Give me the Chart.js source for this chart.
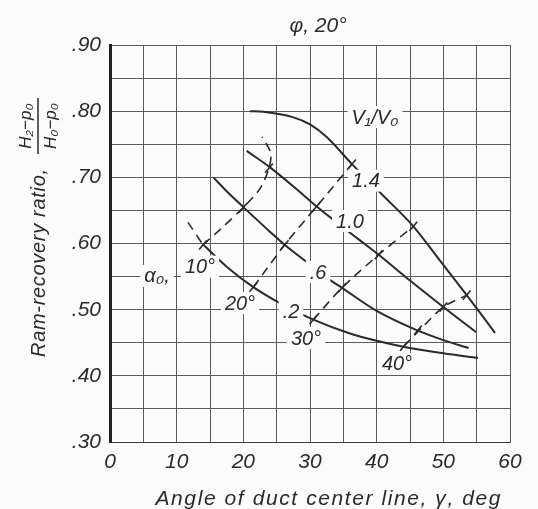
<!DOCTYPE html>
<html>
<head>
<meta charset="utf-8">
<script src="https://cdn.jsdelivr.net/npm/chart.js@4.4.1/dist/chart.umd.min.js"></script>
<style>
  html, body { margin: 0; background: #fbfbfb; }
  #wrap { width: 538px; height: 509px; position: relative; }
</style>
</head>
<body>
<div id="wrap"><canvas id="chart"></canvas></div>
<script>
// axis ranges
const xMin = 0, xMax = 60, xStep = 5;
const yMin = 0.30, yMax = 0.90, yStep = 0.05;

// solid curves, V1/V0 = const  [angle, ratio]
const curve02 = [[14.0, .598], [17.5, .565], [21.5, .534], [26, .507], [30.5, .485], [36, .464], [40, .453], [44, .444], [50, .434], [55.2, .427]];
const curve06 = [[15.5, .700], [17.5, .679], [20, .655], [23, .627], [26.2, .598], [29.5, .572], [32.7, .547], [34.8, .533], [40, .498], [46, .469], [50, .454], [53.8, .442]];
const curve10 = [[20.5, .740], [24, .715], [28, .682], [31, .656], [34, .632], [37.2, .607], [40.3, .583], [45, .544], [50, .504], [54.9, .466]];
const curve14 = [[21, .800], [23, .799], [27.4, .791], [30, .780], [32.5, .761], [36.3, .720], [40.5, .677], [45.5, .626], [49.5, .574], [53.5, .522], [57.75, .465]];

// dashed curves, alpha0 = const
const alpha10 = [[13.95, .598], [16.5, .621], [19.95, .654], [22.5, .683], [23.85, .714], [24.1, .737], [22.8, .761]];
const alpha10Ext = [[11.7, .632], [13.95, .598]];
const alpha20 = [[21.5, .534], [26.2, .598], [31, .656], [36.3, .720]];
const alpha30 = [[30.5, .485], [34.8, .533], [40.3, .583], [45.5, .626]];
const alpha40 = [[44.1, .445], [47, .475], [50, .504], [53.5, .522]];

// crossing marks
const crossings = [
  [13.95, .598], [21.5, .534], [30.5, .485], [44.1, .445],
  [19.95, .654], [26.2, .598], [34.8, .533], [46.2, .469],
  [23.85, .714], [31, .656], [40.3, .583], [50, .504],
  [36.3, .720], [45.5, .626], [53.5, .522]
];

// in-plot labels [text, angle, ratio]
const curveLabels = [
  ['V\u2081/V\u2080', 39.75, .791],
  ['1.4', 38.4, .695],
  ['1.0', 36, .634],
  ['.6', 31.2, .557],
  ['.2', 27.15, .497],
  ['30\u00b0', 29.4, .457],
  ['40\u00b0', 43.05, .418],
  ['20\u00b0', 19.5, .510],
  ['10\u00b0', 13.5, .565],
  ['\u03b1\u2080,', 7.05, .551]
];

const chartTitle = '\u03c6, 20\u00b0';
const xTitle = 'Angle of duct center line, \u03b3, deg';
const yTitle = 'Ram-recovery ratio,';
const yFracTop = 'H\u2082\u2212p\u2080';
const yFracBottom = 'H\u2080\u2212p\u2080';

const ink = '#2a2a2a';
const paper = '#fbfbfb';
const fontFamily = '"Liberation Sans", Arial, sans-serif';

const toPts = arr => arr.map(([x, y]) => ({ x, y }));

const solid = (data) => ({
  data: toPts(data), showLine: true, borderColor: ink, borderWidth: 2,
  pointRadius: 0, cubicInterpolationMode: 'monotone', fill: false
});
const dashed = (data) => ({
  data: toPts(data), showLine: true, borderColor: ink, borderWidth: 1.6,
  borderDash: [9, 6], pointRadius: 0, tension: 0.3, fill: false
});

// fit text into a given width with letter spacing
function drawFitted(ctx, text, x, y, width) {
  ctx.letterSpacing = '0px';
  const w = ctx.measureText(text).width;
  const extra = (width - w) / Math.max(1, text.length - 1);
  ctx.letterSpacing = extra + 'px';
  ctx.textAlign = 'left';
  ctx.fillText(text, x - width / 2, y);
  ctx.letterSpacing = '0px';
}

const decorations = {
  id: 'decorations',
  afterDatasetsDraw(chart) {
    const { ctx, scales: { x, y } } = chart;
    ctx.save();
    ctx.fillStyle = ink;
    ctx.textBaseline = 'middle';
    ctx.font = 'italic 20px ' + fontFamily;
    curveLabels.forEach(([text, vx, vy]) => {
      const px = x.getPixelForValue(vx);
      const py = y.getPixelForValue(vy);
      const w = ctx.measureText(text).width;
      ctx.fillStyle = paper;
      ctx.fillRect(px - w / 2 - 4, py - 11, w + 8, 22);
      ctx.fillStyle = ink;
      ctx.textAlign = 'center';
      ctx.fillText(text, px, py + 1);
    });
    ctx.restore();
  },
  afterDraw(chart) {
    const { ctx } = chart;
    ctx.save();
    ctx.fillStyle = ink;
    ctx.strokeStyle = ink;

    // title
    ctx.font = 'italic 21px ' + fontFamily;
    ctx.textAlign = 'center';
    ctx.textBaseline = 'middle';
    ctx.fillText(chartTitle, 318, 26);

    // x title
    ctx.font = 'italic 21px ' + fontFamily;
    ctx.textBaseline = 'alphabetic';
    drawFitted(ctx, xTitle, 328, 505, 345);

    // y title (rotated)
    ctx.translate(38, 263);
    ctx.rotate(-Math.PI / 2);
    ctx.textBaseline = 'middle';
    ctx.font = 'italic 20px ' + fontFamily;
    drawFitted(ctx, yTitle, 0, 1, 188);

    ctx.font = 'italic 17px ' + fontFamily;
    ctx.textAlign = 'center';
    ctx.fillText(yFracTop, 137, -12);
    ctx.fillText(yFracBottom, 137, 13);
    ctx.lineWidth = 1.5;
    ctx.beginPath();
    ctx.moveTo(109, 0);
    ctx.lineTo(165, 0);
    ctx.stroke();
    ctx.restore();
  }
};

const tickFont = { family: fontFamily, size: 21, style: 'italic' };

new Chart(document.getElementById('chart'), {
  type: 'scatter',
  data: {
    datasets: [
      dashed(alpha10Ext), dashed(alpha10), dashed(alpha20), dashed(alpha30), dashed(alpha40),
      solid(curve02), solid(curve06), solid(curve10), solid(curve14),
      {
        data: toPts(crossings), showLine: false, pointStyle: 'line', rotation: -50,
        pointRadius: 6, borderColor: ink, borderWidth: 1.6
      }
    ]
  },
  options: {
    responsive: true,
    maintainAspectRatio: false,
    animation: false,
    layout: { padding: { left: 0, top: 45, right: 28, bottom: 0 } },
    plugins: { legend: { display: false }, tooltip: { enabled: false } },
    scales: {
      x: {
        type: 'linear', min: xMin, max: xMax,
        afterFit: s => { s.height = 67; },
        grid: { color: '#5a5a5a', lineWidth: 1, drawTicks: false },
        border: { color: '#3a3a3a', width: 1 },
        ticks: {
          stepSize: xStep, autoSkip: false, maxRotation: 0, padding: 8,
          color: ink, font: tickFont,
          callback: v => (v % 10 === 0 ? String(v) : '')
        }
      },
      y: {
        type: 'linear', min: yMin, max: yMax,
        afterFit: s => { s.width = 110; },
        grid: { color: '#5a5a5a', lineWidth: 1, drawTicks: false },
        border: { color: '#222', width: 3 },
        ticks: {
          stepSize: yStep, autoSkip: false, padding: 9,
          color: ink, font: tickFont,
          callback: v => {
            const n = Math.round(v * 100);
            return n % 10 === 0 ? '.' + n : '';
          }
        }
      }
    }
  },
  plugins: [decorations]
});
</script>
</body>
</html>
